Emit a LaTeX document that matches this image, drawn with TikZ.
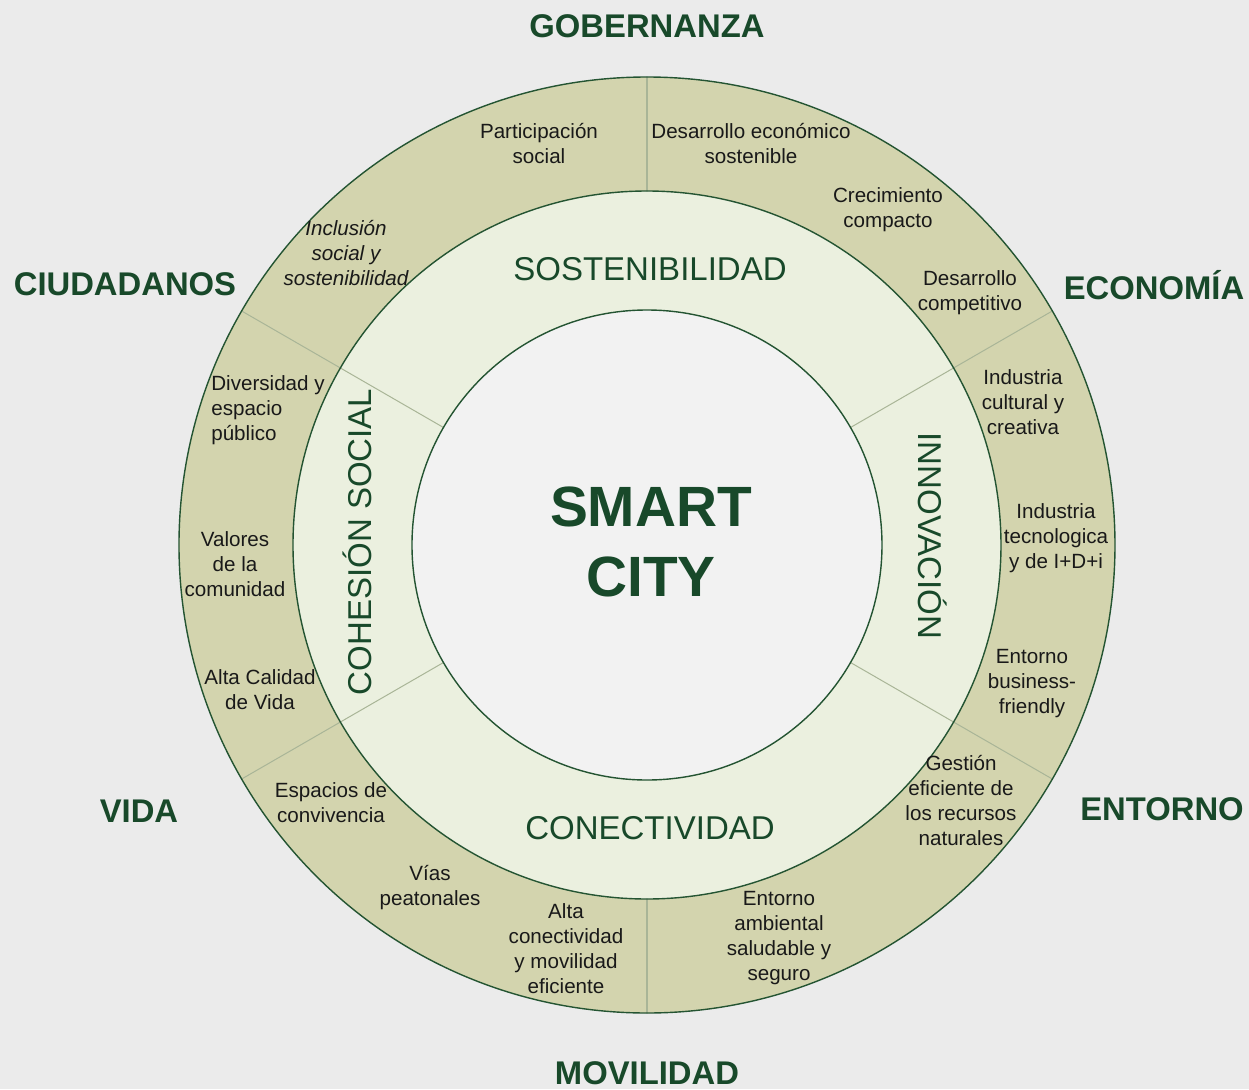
\documentclass[tikz,border=0pt]{standalone}
\usepackage{fontspec}
\setmainfont{Liberation Sans}
\definecolor{fondo}{HTML}{EBEBEB}
\definecolor{anillo}{HTML}{D3D4AE}
\definecolor{medio}{HTML}{EBF0DF}
\definecolor{centro}{HTML}{F2F2F2}
\definecolor{verde}{HTML}{18492A}
\definecolor{borde}{HTML}{245432}
\definecolor{divisor}{HTML}{A9B597}
\begin{document}
\begin{tikzpicture}[x=0.5pt, y=0.5pt, line join=round, line cap=round,
	eje/.style={font=\bfseries\fontsize{16.4}{19}\selectfont, text=verde},
	area/.style={font=\fontsize{16.5}{20}\selectfont, text=verde},
	item/.style={font=\fontsize{10.3}{12.5}\selectfont, align=center, text=black!90}]
		\fill[fondo] (-647,-544) rectangle (602,545);
		\useasboundingbox (-647,-544) rectangle (602,545);
		% anillos
		\fill[anillo] (0,0) circle (468);
		\fill[medio] (0,0) circle (354);
		\fill[centro] (0,0) circle (235);
		\foreach \a in {30,150,210,330} \draw[divisor, line width=0.5pt] (\a:235) -- (\a:468);
		\foreach \a in {90,270} \draw[divisor, line width=0.6pt] (\a:354) -- (\a:468);
		\draw[borde, line width=0.7pt] (0,0) circle (468) (0,0) circle (354) (0,0) circle (235);
		% centro
		\node[font=\bfseries\fontsize{28.4}{35}\selectfont, text=verde, align=center] (smart) at (4,3) {SMART\\CITY};
		% areas
		\node[area] (sost) at (3,276) {SOSTENIBILIDAD};
		\node[area] (conec) at (3,-283) {CONECTIVIDAD};
		\node[area, rotate=90] (cohes) at (-290,3) {COHESIÓN SOCIAL};
		\node[area, rotate=-90] (innov) at (286,9) {INNOVACIÓN};
		% ejes
		\node[eje] (gob) at (0,519) {GOBERNANZA};
		\node[eje] (ciud) at (-522,261) {CIUDADANOS};
		\node[eje] (econ) at (507,260) {ECONOMÍA};
		\node[eje] (vida) at (-508,-266) {VIDA};
		\node[eje] (ent) at (515,-264) {ENTORNO};
		\node[eje] (movil) at (0,-528) {MOVILIDAD};
		% anillo exterior
		\node[item] (partic) at (-108,401) {Participación\\social};
		\node[item] (deseco) at (104,401) {Desarrollo económico\\sostenible};
		\node[item] (crec) at (241,335) {Crecimiento\\compacto};
		\node[item] (descomp) at (323,252) {Desarrollo\\competitivo};
		\node[item] (indcult) at (376,143) {Industria\\cultural y\\creativa};
		\node[item] (indtec) at (409,7) {Industria\\tecnologica\\y de I+D+i};
		\node[item] (entbus) at (385,-139) {Entorno\\business-\\friendly};
		\node[item] (gest) at (314,-256) {Gestión\\eficiente de\\los recursos\\naturales};
		\node[item] (entamb) at (132,-393) {Entorno\\ambiental\\saludable y\\seguro};
		\node[item] (altacon) at (-81,-404) {Alta\\conectividad\\y movilidad\\eficiente};
		\node[item] (vias) at (-217,-343) {Vías\\peatonales};
		\node[item] (espac) at (-316,-258) {Espacios de\\convivencia};
		\node[item] (calidad) at (-387,-145) {Alta Calidad\\de Vida};
		\node[item] (valores) at (-412,-19) {Valores\\de la\\comunidad};
		\node[item, align=left] (divers) at (-379,135) {Diversidad y\\espacio\\público};
		\node[item, font=\itshape\fontsize{10.3}{12.5}\selectfont] (inclus) at (-301,292) {Inclusión\\social y\\sostenibilidad};
\end{tikzpicture}
\end{document}
